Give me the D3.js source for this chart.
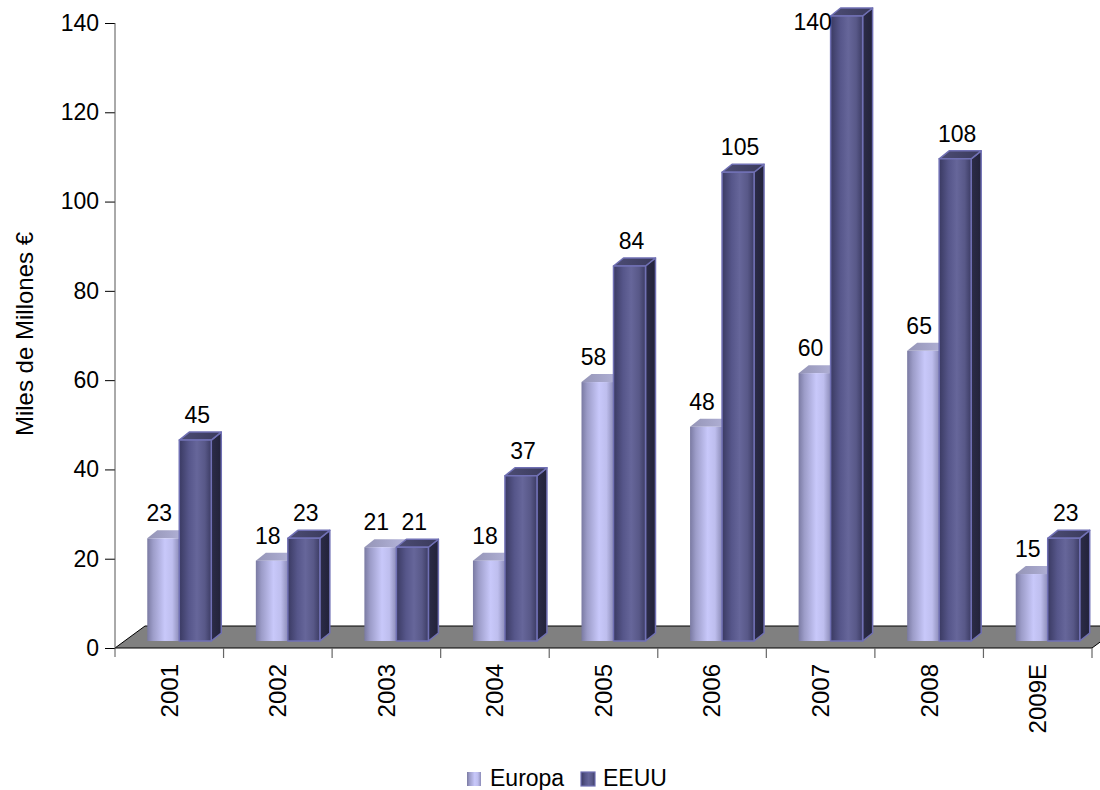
<!DOCTYPE html>
<html>
<head>
<meta charset="utf-8">
<script src="https://cdn.jsdelivr.net/npm/d3@7"></script>
<style>
  html, body { margin: 0; padding: 0; background: #fff; }
  svg { display: block; font-family: "Liberation Sans", Arial, sans-serif; }
</style>
</head>
<body>
<svg id="chart" width="1100" height="790"></svg>
<script>
// Annual investment volume, Europe vs. USA (thousand million €)
const years = ["2001", "2002", "2003", "2004", "2005", "2006", "2007", "2008", "2009E"];
const europa = [23, 18, 21, 18, 58, 48, 60, 65, 15];
const eeuu = [45, 23, 21, 37, 84, 105, 140, 108, 23];
const seriesNames = ["Europa", "EEUU"];
const yTicks = [0, 20, 40, 60, 80, 100, 120, 140];

const svg = d3.select("#chart");
const defs = svg.append("defs");

function gradient(id, stops, vertical) {
  const g = defs.append("linearGradient").attr("id", id)
    .attr("x1", 0).attr("y1", 0).attr("x2", vertical ? 0 : 1).attr("y2", vertical ? 1 : 0);
  stops.forEach(([o, c]) => g.append("stop").attr("offset", o).attr("stop-color", c));
}
gradient("euFront", [[0, "#7a7aa2"], [0.18, "#9c9cc8"], [0.55, "#c8c8fa"], [0.78, "#bebeee"], [1, "#8c8cb8"]]);
gradient("euTop", [[0, "#9494b6"], [1, "#b6b6dc"]]);
gradient("usFront", [[0, "#3a3a62"], [0.3, "#56568a"], [0.55, "#66669a"], [0.8, "#585888"], [1, "#3c3c64"]]);
gradient("usTop", [[0, "#4c4c74"], [1, "#3a3a5c"]]);
gradient("usSide", [[0, "#2c2c48"], [1, "#22223a"]]);

const left = 115, right = 1092;
const y = d3.scaleLinear().domain([0, 140]).range([648, 23]);
const x = d3.scaleBand().domain(years).range([left, right]).paddingInner(0).paddingOuter(0);

// 3D geometry: depth of the floor, offset of the bar plane, depth of each bar
const floorD = { dx: 30, dy: -22 };
const barOff = { dx: 10, dy: -7 };
const barD = { dx: 10, dy: -8 };
const barW = 32;

// floor
svg.append("path")
  .attr("d", `M${left},${y(0)} L${right},${y(0)} L${right + floorD.dx},${y(0) + floorD.dy} L${left + floorD.dx},${y(0) + floorD.dy} Z`)
  .attr("fill", "#808080").attr("stroke", "#000").attr("stroke-width", 1);

// y axis
const yAxis = svg.append("g").attr("transform", `translate(${left},0)`)
  .call(d3.axisLeft(y).tickValues(yTicks).tickSize(10).tickPadding(6).tickSizeOuter(0));
yAxis.select(".domain").remove();
yAxis.selectAll(".tick line").attr("stroke", "#000");
yAxis.selectAll(".tick text").attr("font-size", 23).attr("fill", "#000")
  .attr("font-family", "'Liberation Sans', Arial, sans-serif");
svg.append("line").attr("x1", left).attr("x2", left).attr("y1", y(140)).attr("y2", y(0) + 9)
  .attr("stroke", "#555").attr("stroke-width", 1);

// category boundary ticks
const bounds = years.map(d => x(d) + x.bandwidth());
svg.append("g").selectAll("line").data(bounds).join("line")
  .attr("x1", d => d).attr("x2", d => d).attr("y1", y(0)).attr("y2", y(0) + 10)
  .attr("stroke", "#666").attr("stroke-width", 1.2);

// category labels (rotated)
svg.append("g").selectAll("text").data(years).join("text")
  .attr("transform", d => `translate(${x(d) + x.bandwidth() / 2},${y(0) + 16}) rotate(-90)`)
  .attr("dy", "0.35em").attr("text-anchor", "end")
  .attr("font-size", 24).attr("fill", "#000").text(d => d);

// bars
function base(i, s) {
  const cx = x(years[i]) + x.bandwidth() / 2 + barOff.dx;
  return s === 0 ? cx - barW : cx;
}
const bars = svg.append("g");

// Europa bars (front + top; side hidden behind EEUU bars)
europa.forEach((v, i) => {
  const x0 = base(i, 0), yt = y(v) + barOff.dy, yb = y(0) + barOff.dy;
  const g = bars.append("g");
  g.append("path")
    .attr("d", `M${x0},${yt} L${x0 + barD.dx},${yt + barD.dy} L${x0 + barW + barD.dx},${yt + barD.dy} L${x0 + barW},${yt} Z`)
    .attr("fill", "url(#euTop)");
  g.append("rect").attr("x", x0).attr("y", yt).attr("width", barW).attr("height", yb - yt)
    .attr("fill", "url(#euFront)");
});

// EEUU bars
eeuu.forEach((v, i) => {
  const x0 = base(i, 1), yt = y(v) + barOff.dy, yb = y(0) + barOff.dy;
  const g = bars.append("g").attr("stroke", "#7070b4").attr("stroke-width", 1.5).attr("stroke-linejoin", "round");
  g.append("path")
    .attr("d", `M${x0 + barW},${yt} L${x0 + barW + barD.dx},${yt + barD.dy} L${x0 + barW + barD.dx},${yb + barD.dy} L${x0 + barW},${yb} Z`)
    .attr("fill", "url(#usSide)");
  g.append("path")
    .attr("d", `M${x0},${yt} L${x0 + barD.dx},${yt + barD.dy} L${x0 + barW + barD.dx},${yt + barD.dy} L${x0 + barW},${yt} Z`)
    .attr("fill", "url(#usTop)");
  g.append("rect").attr("x", x0).attr("y", yt).attr("width", barW).attr("height", yb - yt)
    .attr("fill", "url(#usFront)");
});

// value labels
const labels = svg.append("g").attr("font-size", 23).attr("fill", "#000").attr("text-anchor", "middle");
[europa, eeuu].forEach((vals, s) => {
  vals.forEach((v, i) => {
    let cx = base(i, s) + barW / 2 + barD.dx / 2 - (s === 0 ? 9 : 3);
    let by = y(v) + barOff.dy + barD.dy - 9;
    if (by < 30) { by = 30; cx -= 36; }
    labels.append("text").attr("x", cx).attr("y", by).text(v);
  });
});

// y axis title
svg.append("text").attr("transform", `translate(33,334) rotate(-90)`)
  .attr("text-anchor", "middle").attr("font-size", 24).attr("fill", "#000")
  .text("Miles de Millones €");

// legend
const legend = svg.append("g");
const legendItems = [
  { name: seriesNames[0], fill: "url(#euFront)", stroke: "none", sx: 467, tx: 490 },
  { name: seriesNames[1], fill: "url(#usFront)", stroke: "#7070b4", sx: 581, tx: 603 }
];
legendItems.forEach(d => {
  legend.append("rect").attr("x", d.sx).attr("y", 772).attr("width", 14).attr("height", 14)
    .attr("fill", d.fill).attr("stroke", d.stroke).attr("stroke-width", 1.2);
  legend.append("text").attr("x", d.tx).attr("y", 786).attr("font-size", 23).attr("fill", "#000").text(d.name);
});
</script>
</body>
</html>
